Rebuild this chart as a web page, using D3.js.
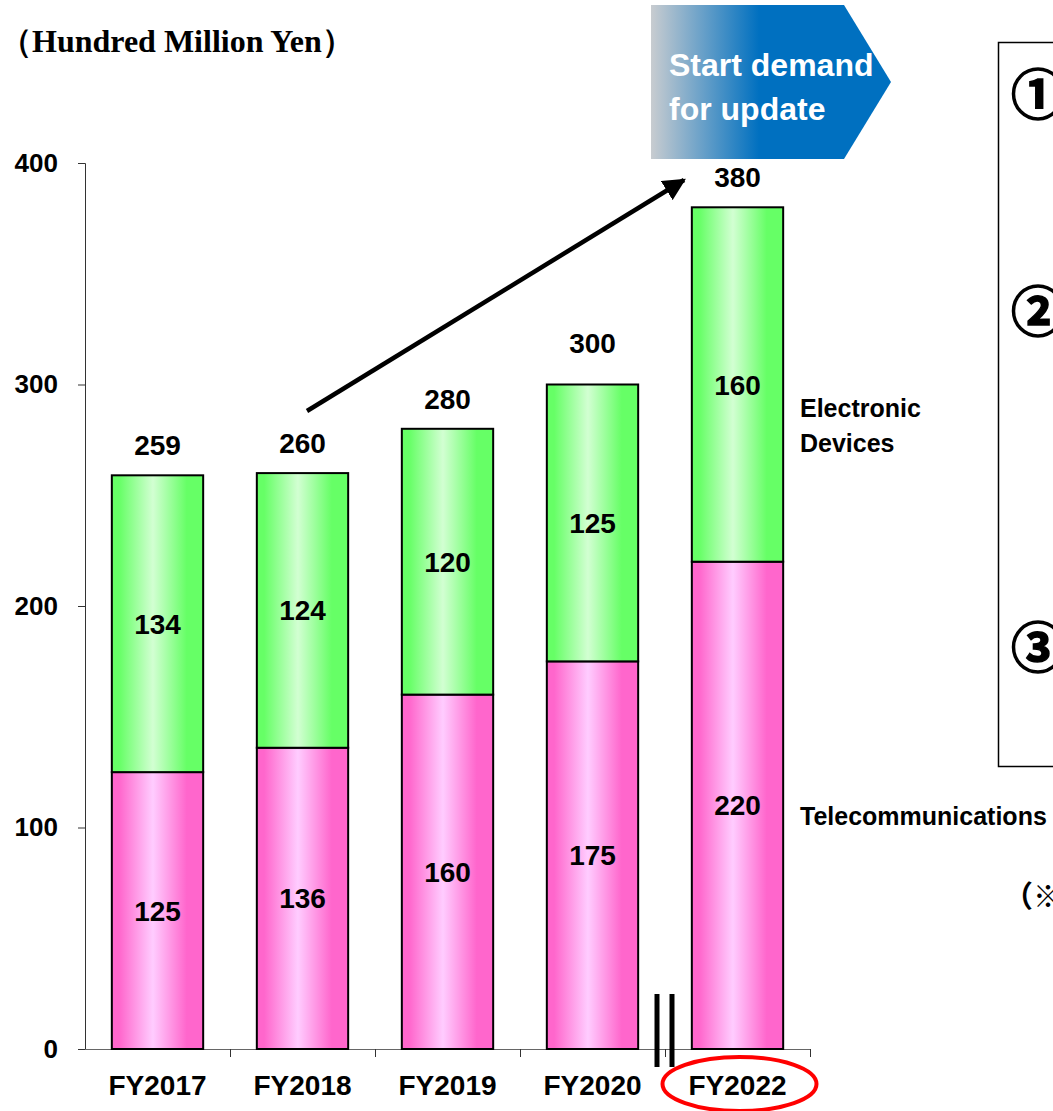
<!DOCTYPE html>
<html><head><meta charset="utf-8">
<script src="https://cdn.jsdelivr.net/npm/d3@7"></script>
<style>body{margin:0;background:#fff}svg{display:block}</style>
</head><body>
<svg id="c" width="1053" height="1111"></svg>
<script>
const categories = ["FY2017","FY2018","FY2019","FY2020","FY2022"];
const telecommunications = [125,136,160,175,220];
const electronicDevices = [134,124,120,125,160];
const totals = [259,260,280,300,380];
const yTicks = [0,100,200,300,400];
const seriesNames = ["Telecommunications","Electronic Devices"];
const unitLabel = "（Hundred Million Yen）";
const bannerLines = ["Start demand","for update"];
const boxMarks = ["①","②","③"];
const noteText = "（※";

const svg = d3.select("#c");
const x = d3.scaleBand().domain(categories).range([85, 810]).paddingInner(0.37).paddingOuter(0.185);
const y = d3.scaleLinear().domain([0, 400]).range([1049, 163]);

const defs = svg.append("defs");
function grad(id, edge, mid){
  const g = defs.append("linearGradient").attr("id", id).attr("x1","0").attr("x2","1").attr("y1","0").attr("y2","0");
  [[0,edge],[0.08,edge],[0.45,mid],[0.82,edge],[1,edge]].forEach(s=>g.append("stop").attr("offset",s[0]).attr("stop-color",s[1]));
}
grad("gGreen","#66ff66","#d2ffd2");
grad("gPink","#ff66cc","#ffccff");
const bg = defs.append("linearGradient").attr("id","gBanner").attr("x1","0").attr("x2","1");
bg.append("stop").attr("offset",0).attr("stop-color","#c8ccd0");
bg.append("stop").attr("offset",0.45).attr("stop-color","#0070c0");
bg.append("stop").attr("offset",1).attr("stop-color","#0070c0");
defs.append("marker").attr("id","arrowHead").attr("viewBox","0 0 10 10").attr("refX",9).attr("refY",5)
  .attr("markerWidth",5).attr("markerHeight",5).attr("orient","auto")
  .append("path").attr("d","M0,0 L10,5 L0,10 z").attr("fill","#000");

const sans = "'Liberation Sans', Arial, sans-serif";

// unit label
svg.append("text").attr("x",0).attr("y",52).attr("font-family","'Liberation Serif','Times New Roman',serif")
  .attr("font-weight","bold").attr("font-size",32).attr("fill","#000").text(unitLabel);

// y axis
const yAxis = svg.append("g").attr("transform","translate(85,0)")
  .call(d3.axisLeft(y).tickValues(yTicks).tickSize(7).tickFormat(d3.format("d")));
yAxis.select(".domain").attr("stroke","#333").attr("d","M-7,163.5H0.5V1049");
yAxis.selectAll(".tick line").attr("stroke","#333");
yAxis.selectAll(".tick text").attr("x",-27).attr("font-family",sans).attr("font-weight","bold").attr("font-size",26).attr("fill","#000");

// x axis
const bounds = categories.map(c => x(c) - x.step()*x.paddingInner()/2).concat([810]);
const xg = svg.append("g");
xg.append("line").attr("x1",85).attr("x2",810).attr("y1",1049.5).attr("y2",1049.5).attr("stroke","#666");
xg.selectAll("line.t").data(bounds.slice(1)).join("line").attr("class","t")
  .attr("x1",d=>Math.round(d)+0.5).attr("x2",d=>Math.round(d)+0.5).attr("y1",1049).attr("y2",1057).attr("stroke","#333");
xg.selectAll("text").data(categories).join("text")
  .attr("x",d=>x(d)+x.bandwidth()/2).attr("y",1095).attr("text-anchor","middle")
  .attr("font-family",sans).attr("font-weight","bold").attr("font-size",28).attr("fill","#000").text(d=>d);

// bars
const stackData = categories.map((c,i)=>({cat:c, tele:telecommunications[i], elec:electronicDevices[i], total:totals[i]}));
const bars = svg.append("g");
bars.selectAll("rect.tele").data(stackData).join("rect").attr("class","tele")
  .attr("x",d=>x(d.cat)).attr("width",x.bandwidth())
  .attr("y",d=>y(d.tele)).attr("height",d=>y(0)-y(d.tele))
  .attr("fill","url(#gPink)").attr("stroke","#000").attr("stroke-width",2);
bars.selectAll("rect.elec").data(stackData).join("rect").attr("class","elec")
  .attr("x",d=>x(d.cat)).attr("width",x.bandwidth())
  .attr("y",d=>y(d.tele+d.elec)).attr("height",d=>y(d.tele)-y(d.tele+d.elec))
  .attr("fill","url(#gGreen)").attr("stroke","#000").attr("stroke-width",2);

const lbl = svg.append("g").attr("font-family",sans).attr("font-weight","bold").attr("font-size",28).attr("fill","#000").attr("text-anchor","middle");
lbl.selectAll("text.t").data(stackData).join("text").attr("class","t")
  .attr("x",d=>x(d.cat)+x.bandwidth()/2).attr("y",d=>(y(0)+y(d.tele))/2+10).text(d=>d.tele);
lbl.selectAll("text.e").data(stackData).join("text").attr("class","e")
  .attr("x",d=>x(d.cat)+x.bandwidth()/2).attr("y",d=>(y(d.tele)+y(d.tele+d.elec))/2+10).text(d=>d.elec);
const lift = {FY2020:32};
lbl.selectAll("text.s").data(stackData).join("text").attr("class","s")
  .attr("x",d=>x(d.cat)+x.bandwidth()/2).attr("y",d=>y(d.total)-(lift[d.cat]||20)).text(d=>d.total);

// series labels
const sl = svg.append("g").attr("font-family",sans).attr("font-weight","bold").attr("font-size",25).attr("fill","#000");
const eText = sl.append("text").attr("x",800).attr("y",417);
eText.append("tspan").attr("x",800).text("Electronic");
eText.append("tspan").attr("x",800).attr("dy",35).text("Devices");
sl.append("text").attr("x",800).attr("y",825).text(seriesNames[0]);

// axis break marks
const breakX = bounds[4];
[-8,7].forEach(o=>svg.append("line").attr("x1",breakX+o).attr("x2",breakX+o).attr("y1",994).attr("y2",1067).attr("stroke","#000").attr("stroke-width",5));

// red ellipse
svg.append("ellipse").attr("cx",x("FY2022")+x.bandwidth()/2+2).attr("cy",1084).attr("rx",77).attr("ry",27)
  .attr("fill","none").attr("stroke","#ff0000").attr("stroke-width",4);

// arrow
svg.append("line").attr("x1",307).attr("y1",411).attr("x2",684).attr("y2",180)
  .attr("stroke","#000").attr("stroke-width",4.5).attr("marker-end","url(#arrowHead)");

// banner
const banner = svg.append("g");
defs.append("clipPath").attr("id","bannerClip").append("path").attr("d","M651,5H844L891,82L844,159H651Z");
banner.append("path").attr("d","M651,5H844L891,82L844,159H651Z").attr("fill","url(#gBanner)");
banner.append("g").attr("clip-path","url(#bannerClip)").selectAll("text").data(bannerLines).join("text")
  .attr("x",669).attr("y",(d,i)=>76+i*44).attr("fill","#fff").attr("font-family",sans)
  .attr("font-size",32).attr("font-weight","bold").text(d=>d);

// right box
svg.append("rect").attr("x",998.5).attr("y",42.5).attr("width",80).attr("height",724).attr("fill","none").attr("stroke","#000").attr("stroke-width",1.5);
svg.selectAll("text.mark").data(boxMarks).join("text").attr("class","mark")
  .attr("x",1011).attr("y",(d,i)=>[115,332,668][i]).attr("font-family","'Noto Sans CJK JP',sans-serif")
  .attr("font-weight","bold").attr("font-size",54).attr("fill","#000").attr("stroke","#000").attr("stroke-width",1.5).text(d=>d);
svg.append("text").attr("x",1003).attr("y",907).attr("font-family","'Noto Sans CJK JP',sans-serif")
  .attr("font-weight","bold").attr("font-size",30).attr("fill","#000").text(noteText);
</script>
</body></html>
